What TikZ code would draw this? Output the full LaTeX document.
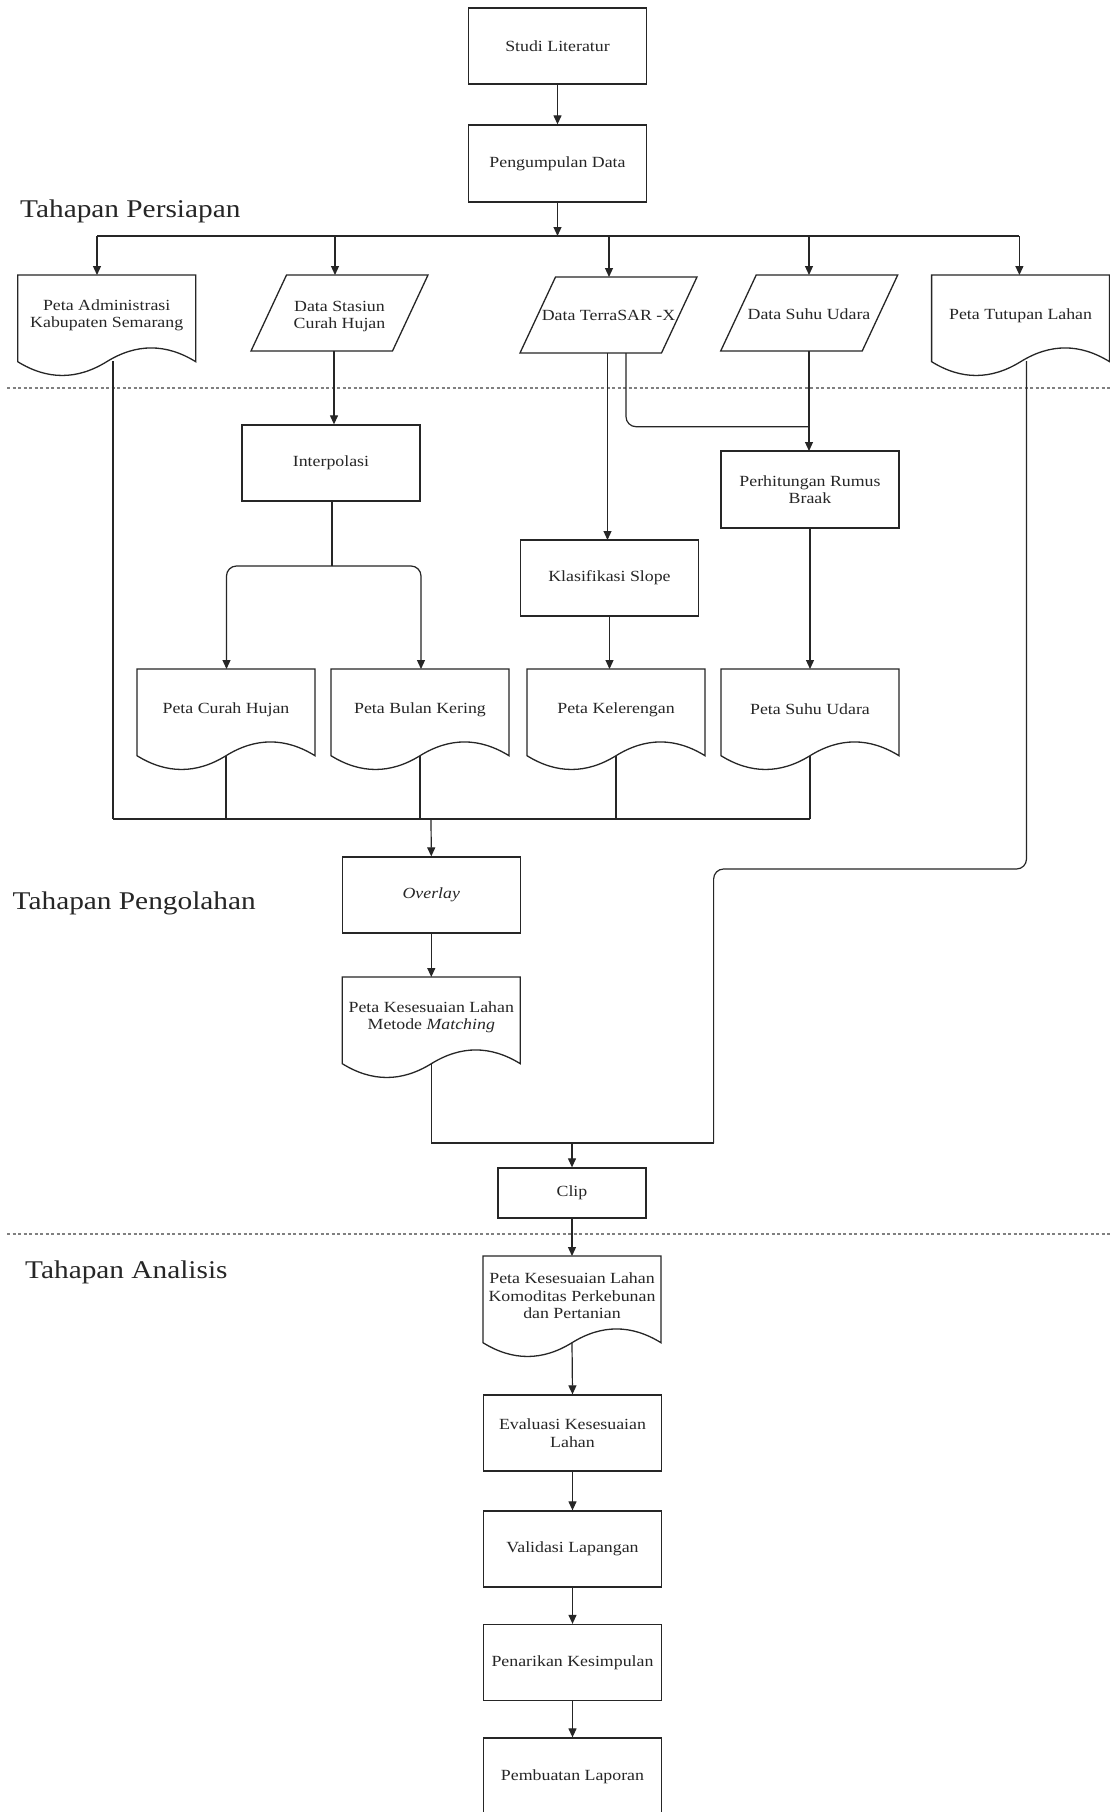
\documentclass[tikz,border=0pt]{standalone}
\usepackage{fontspec}
\setmainfont{Liberation Serif}[FakeStretch=1.15]
\usetikzlibrary{arrows.meta,calc}
\newcommand\mybxfont{\fontsize{15.5}{17.5}\selectfont}
\newcommand\myphfont{\fontsize{25.5}{30}\selectfont}
\tikzset{
 shapeline/.style={draw=black!85, line width=1.3pt},
 procbox/.style={shapeline, rectangle, minimum width=178pt, minimum height=76pt, inner sep=2pt, align=center, font=\mybxfont, text=black!85},
 txt/.style={align=center, font=\mybxfont, inner sep=0pt, text=black!85},
 conn/.style={draw=black!85, line width=1.2pt},
 arr/.style={conn, -{Triangle[length=9pt,width=8pt]}},
 phase/.style={anchor=west, font=\myphfont, inner sep=0pt, text=black!85},
 divider/.style={draw=black!50, line width=1.6pt, dash pattern=on 3pt off 2.5pt},
}
% document shape: name, x0, y0 (top-left), width 178, height 102
\newcommand\mydocshape[3]{%
 \begin{scope}[shift={(#2,#3)}]
 \draw[shapeline] (0,0) -- (178,0) -- (178,86.7)
   .. controls (148.33,68.34) and (118.67,68.34) .. (89,86.7)
   .. controls (59.33,105.06) and (29.67,105.06) .. (0,86.7) -- cycle;
 \coordinate (#1-n) at (89,0);
 \coordinate (#1-s) at (89,86.7);
 \coordinate (#1-c) at (89,40.3);
 \end{scope}}
% parallelogram: name, x0 (bottom-left), y0 (top)
\newcommand\myparashape[3]{%
 \begin{scope}[shift={(#2,#3)}]
 \draw[shapeline] (35.5,0) -- (177,0) -- (141.5,76) -- (0,76) -- cycle;
 \coordinate (#1-n) at (88.5,0);
 \coordinate (#1-s) at (88.5,76);
 \coordinate (#1-c) at (88.5,38);
 \end{scope}}
\begin{document}
\begin{tikzpicture}[x=1pt,y=-1pt]
\useasboundingbox (0,0) rectangle (1110,1812);
\fill[white] (0,0) rectangle (1110,1812);

% dividers
\coordinate (d1l) at (7,388); \coordinate (d1r) at (1110,388);
\coordinate (d2l) at (7,1234); \coordinate (d2r) at (1110,1234);
\draw[divider] (d1l) -- (d1r);
\draw[divider] (d2l) -- (d2r);

% phase titles
\node[phase] (ph1) at (20,211.5) {Tahapan Persiapan};
\node[phase] (ph2) at (12.5,903) {Tahapan Pengolahan};
\node[phase] (ph3) at (25,1272.5) {Tahapan Analisis};

% top process boxes
\node[procbox] (studi) at (557.5,46) {Studi Literatur};
\node[procbox, minimum height=77pt] (peng) at (557.5,163.5) {Pengumpulan Data};

% inputs
\mydocshape{adm}{17.7}{275}
\node[txt] (admin) at (adm-c) {Peta Administrasi\\Kabupaten Semarang};
\myparashape{sta}{251}{275}
\node[txt] (stasiun) at (339.5,316.5) {Data Stasiun\\Curah Hujan};
\myparashape{tsx}{520}{277}
\node[txt] (terrasar) at (608.5,315) {Data TerraSAR -X};
\myparashape{suh}{720.7}{275}
\node[txt] (suhu) at (809,314) {Data Suhu Udara};
\mydocshape{tut}{931.6}{275}
\node[txt] (tutupan) at (tut-c) {Peta Tutupan Lahan};

% processing
\node[procbox] (interp) at (331,463) {Interpolasi};
\node[procbox, minimum height=77pt] (braak) at (810,489.5) {Perhitungan Rumus\\Braak};
\node[procbox] (slope) at (609.5,578) {Klasifikasi Slope};

\mydocshape{ch}{137}{669}
\node[txt] (curah) at (ch-c) {Peta Curah Hujan};
\mydocshape{bk}{331}{669}
\node[txt] (bulan) at (bk-c) {Peta Bulan Kering};
\mydocshape{kl}{527}{669}
\node[txt] (keler) at (kl-c) {Peta Kelerengan};
\mydocshape{su}{721}{669}
\node[txt] (psuhu) at (su-c) {Peta Suhu Udara};

\node[procbox] (overlay) at (431.3,895) {\textit{Overlay}};
\mydocshape{mt}{342.3}{977}
\node[txt] (matching) at (mt-c) {Peta Kesesuaian Lahan\\Metode \textit{Matching}};

\node[procbox, minimum width=148pt, minimum height=50pt] (clip) at (572,1193) {Clip};

% analysis
\mydocshape{km}{483}{1256}
\node[txt] (komod) at (572,1296) {Peta Kesesuaian Lahan\\Komoditas Perkebunan\\dan Pertanian};
\node[procbox] (eval) at (572.5,1433) {Evaluasi Kesesuaian\\Lahan};
\node[procbox] (valid) at (572.5,1549) {Validasi Lapangan};
\node[procbox] (tarik) at (572.5,1662.5) {Penarikan Kesimpulan};
\node[procbox, minimum height=78pt] (buat) at (572.5,1777) {Pembuatan Laporan};

% ---- connectors ----
\draw[arr] (studi) -- (peng);
\coordinate (bus) at (557.5,236);
\coordinate (busL) at (97,236);
\coordinate (busR) at (1019.4,236);
\draw[arr] (peng) -- (bus);
\draw[conn] (busL) -- (busR);
\draw[arr] (busL) -- (busL |- adm-n);
\draw[arr] (335,236) -- (335,275);
\draw[arr] (609,236) -- (609,277);
\draw[arr] (809,236) -- (809,275);
\draw[arr] (busR) -- (busR |- tut-n);

% Stasiun -> Interpolasi
\draw[arr] (334,351) -- (interp.north -| 334,0);
% TerraSAR -> Klasifikasi
\draw[arr] (607.5,353) -- (607.5,540);
% TerraSAR -> Braak (bend)
\draw[conn, rounded corners=10pt] (626,353) -- (626,426.7) -- (809,426.7);
% Suhu -> Braak
\draw[arr] (809,351) -- (809,451);
% Interpolasi split
\coordinate (split) at (332,566);
\draw[conn] (interp.south -| split) -- (split);
\draw[arr, rounded corners=10pt] (split) -- (226.5,566) -- (226.5,669);
\draw[arr, rounded corners=10pt] (split) -- (421,566) -- (421,669);
% Klasifikasi -> Kelerengan
\draw[arr] (slope.south -| 609.5,0) -- (609.5,669);
% Braak -> Peta Suhu
\draw[arr] (braak.south) -- (su-n);

% collection
\coordinate (colL) at (113,819);
\coordinate (colR) at (810,819);
\draw[conn] (113,361) -- (colL);
\draw[conn] (ch-s) -- (ch-s |- colL);
\draw[conn] (bk-s) -- (bk-s |- colL);
\draw[conn] (kl-s) -- (kl-s |- colL);
\draw[conn] (su-s) -- (su-s |- colL);
\draw[conn] (colL) -- (colR);
\draw[arr] (431,819) -- (overlay.north);
\draw[arr] (overlay.south) -- (mt-n);

% join Matching + Tutupan -> Clip
\coordinate (jL) at (431.3,1143);
\coordinate (jR) at (713.6,1143);
\draw[conn] (mt-s) -- (jL) -- (jR);
\draw[conn, rounded corners=10pt] (1026.5,361) -- (1026.5,869) -- (713.6,869) -- (jR);
\draw[arr] (572,1143) -- (clip.north);
\draw[arr] (clip.south) -- (km-n);
\draw[arr] (km-s) -- (eval.north);
\draw[arr] (eval) -- (valid);
\draw[arr] (valid) -- (tarik);
\draw[arr] (tarik) -- (buat);
\end{tikzpicture}
\end{document}
